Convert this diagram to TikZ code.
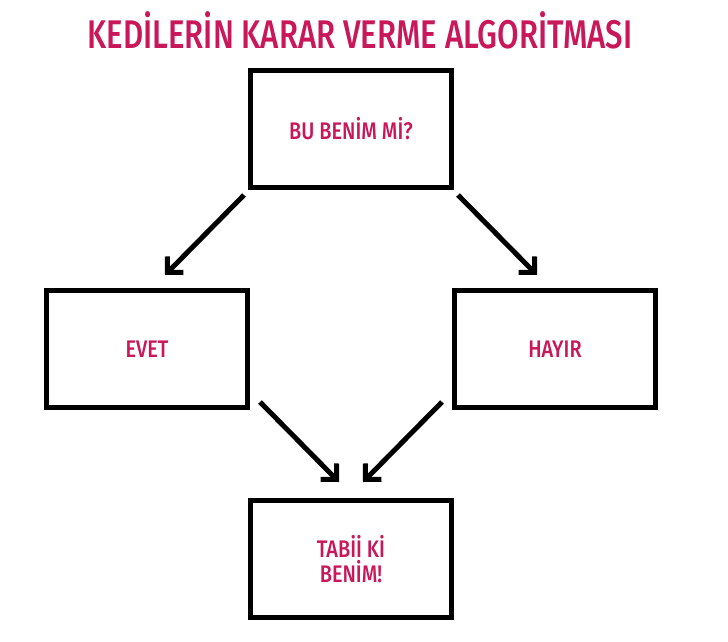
\documentclass[tikz,border=0pt]{standalone}
\usepackage{fontspec}
\usetikzlibrary{arrows.meta}
\setmainfont{Fira Sans}
\newfontfamily\titlefont[FakeStretch=0.78, UprightFont=* Medium]{Fira Sans}
\newfontfamily\boxfont[FakeStretch=0.83, UprightFont=* Medium]{Fira Sans}
\definecolor{catpink}{HTML}{C8185A}

\begin{document}
\begin{tikzpicture}[
    x=1pt, y=-1pt,
    every node/.style={text=catpink},
    box/.style={draw=black, line width=5pt, minimum width=201pt, minimum height=117pt, inner sep=0pt, align=center, font=\boxfont\fontsize{24}{25}\selectfont},
    arrow/.style={-{Straight Barb[angle=90:16pt, sharp]}, line width=5pt},
]
\useasboundingbox (0,0) rectangle (728,642);
\node[font=\titlefont\fontsize{40}{44}\selectfont] (title) at (360,30) {KEDİLERİN KARAR VERME ALGORİTMASI};
\node[box] (mine) at (351,129) {BU BENİM Mİ?};
\node[box] (evet) at (147,349) {EVET};
\node[box] (hayir) at (555,349) {HAYIR};
\node[box] (tabii) at (351,559) {TABİİ Kİ\\BENİM!};
\draw[arrow] ([shift={(-4,5)}]mine.south west) -- ([shift={(18,-13)}]evet.north);
\draw[arrow] ([shift={(4,5)}]mine.south east) -- ([shift={(-18,-13)}]hayir.north);
\draw[arrow] ([shift={(10,-8)}]evet.south east) -- ([shift={(-12,-16)}]tabii.north);
\draw[arrow] ([shift={(-10,-8)}]hayir.south west) -- ([shift={(12,-16)}]tabii.north);
\end{tikzpicture}
\end{document}
